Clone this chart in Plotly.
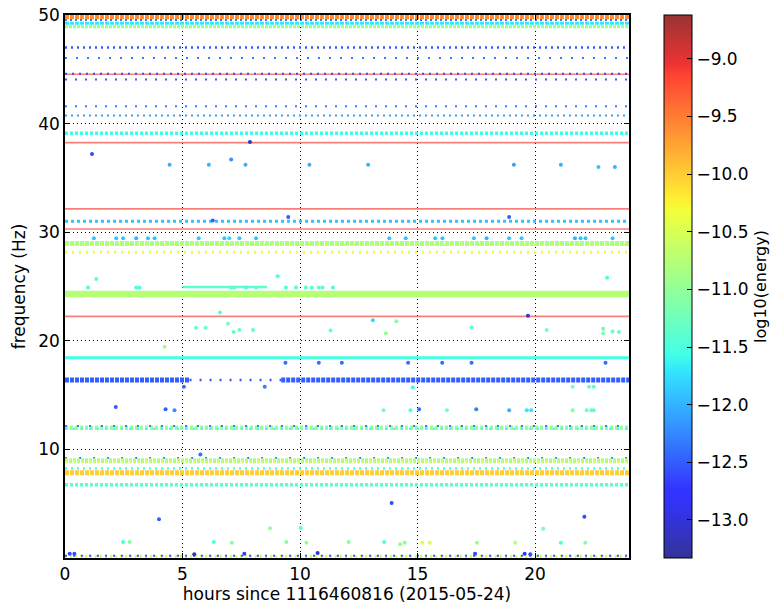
import numpy as np
import plotly.graph_objects as go
from plotly.colors import sample_colorscale

# ---------------- data ----------------
# continuous / dotted trigger bands (frequency in Hz, log10 energy, time span in hours)
band_freq = [49.85, 49.55, 49.25, 48.95, 47.0, 46.05, 44.55, 44.6, 44.05, 41.6, 40.75,
             39.1, 38.25, 32.15, 31.0, 30.3, 28.95, 28.85, 28.15, 24.95, 24.3, 22.25, 18.45,
             16.4, 16.4, 16.4, 12.0, 11.9, 12.15, 9.2, 8.95, 8.85, 8.25, 7.85, 6.75, 0.15, 0.2]
band_energy = [-9.6, -12.4, -11.7, -10.9, -12.5, -12.3, -9.1, -12.6, -12.5, -12.3, -12.1,
               -11.6, -9.1, -9.1, -11.9, -9.1, -10.85, -10.4, -10.3, -11.4, -10.75, -9.1, -11.55,
               -12.5, -12.5, -12.5, -11.0, -11.6, -12.3, -12.3, -10.8, -10.35, -11.5, -10.0, -11.4,
               -10.6, -12.5]
band_start = [0, 0, 0, 0, 0, 0, 0, 0, 0, 0, 0,
              0, 0, 0, 0, 0, 0, 0, 0, 5.0, 0, 0, 0,
              0, 5.3, 9.2, 0, 0, 0, 0, 0, 0, 0, 0, 0, 0, 0]
band_end = [24, 24, 24, 24, 24, 24, 24, 24, 24, 24, 24,
            24, 24, 24, 24, 24, 24, 24, 24, 8.6, 24, 24, 24,
            5.3, 9.2, 24, 24, 24, 24, 24, 24, 24, 24, 24, 24, 24, 24]

# isolated triggers
pt_hours = [1.15, 4.45, 6.12, 7.07, 7.68, 7.87, 10.4, 12.9, 19.1, 21.1, 22.7, 23.4,
            9.5, 6.29, 18.9,
            1.23, 2.18, 2.47, 3.03, 3.53, 3.81, 5.69, 6.78, 6.99, 7.42, 8.13,
            13.8, 14.5, 15.75, 16.06, 17.4, 17.94, 18.9, 19.43, 21.7, 21.94, 22.15, 23.3,
            23.07, 1.33, 9.05,
            0.98, 3.03, 3.17, 7.07, 7.2, 7.7, 8.13, 9.4, 9.83, 10.25, 10.5, 10.8, 10.96, 11.4,
            6.6, 5.57, 5.98, 6.94, 7.18, 7.42, 8.0, 11.3, 4.24,
            13.1, 14.1, 13.65, 17.3, 19.7, 20.5, 22.9, 22.9, 23.3, 23.57,
            9.38, 10.8, 11.78, 14.6, 16.05, 17.3, 23.0,
            5.06, 8.5, 14.8, 21.6, 22.3, 22.5,
            2.16, 4.28, 4.66, 13.55, 14.7, 15.07, 16.25, 17.5, 18.9, 19.65, 19.84, 21.6, 22.2, 22.4, 22.5,
            5.76,
            4.0, 2.47, 2.75, 6.33, 7.1, 8.72, 9.42, 10.03, 10.27, 12.07, 13.9, 13.58, 14.26, 14.46,
            15.2, 15.52, 17.53, 19.16, 20.35, 21.1, 22.1, 22.14,
            0.2, 0.4, 10.75, 7.63, 5.5, 17.45, 19.56, 19.8]
pt_freq = [37.2, 36.2, 36.2, 36.7, 36.2, 38.3, 36.2, 36.2, 36.2, 36.2, 36.0, 36.0,
           31.4, 31.07, 31.4,
           29.45, 29.45, 29.45, 29.45, 29.45, 29.45, 29.45, 29.45, 29.45, 29.45, 29.45,
           29.45, 29.45, 29.45, 29.45, 29.45, 29.45, 29.45, 29.45, 29.45, 29.45, 29.45, 29.45,
           25.8, 25.7, 25.95,
           24.9, 24.9, 24.9, 24.9, 24.9, 24.9, 24.9, 24.9, 24.9, 24.9, 24.9, 24.9, 24.9, 24.9,
           22.6, 21.2, 21.2, 21.56, 20.8, 21.0, 21.0, 20.95, 19.45,
           21.9, 21.8, 20.7, 21.25, 22.3, 21.0, 21.1, 20.7, 20.85, 20.8,
           17.97, 17.97, 17.97, 17.97, 17.97, 17.97, 17.97,
           15.77, 15.77, 15.7, 15.77, 15.77, 15.77,
           13.9, 13.7, 13.6, 13.6, 13.6, 13.7, 13.6, 13.7, 13.6, 13.6, 13.6, 13.6, 13.6, 13.6, 13.6,
           9.54,
           3.56, 1.47, 1.47, 1.47, 1.41, 2.73, 1.47, 2.76, 1.41, 1.47, 5.06, 1.47, 1.26, 1.41,
           1.41, 1.41, 1.41, 1.41, 2.7, 1.41, 3.8, 1.41,
           0.4, 0.4, 0.45, 0.4, 0.35, 0.4, 0.4, 0.35]
pt_energy = [-12.6, -12.0, -12.0, -12.2, -12.0, -13.1, -12.0, -12.0, -12.1, -12.0, -11.9, -12.0,
             -12.5, -12.5, -12.5,
             -11.9, -11.9, -11.9, -12.0, -11.9, -11.9, -11.9, -11.9, -11.8, -11.9, -11.9,
             -11.9, -11.9, -11.9, -11.9, -11.9, -12.0, -11.9, -11.9, -12.0, -11.9, -11.9, -11.9,
             -11.5, -11.4, -11.5,
             -11.5, -11.5, -11.5, -11.4, -11.4, -11.5, -11.4, -11.5, -11.5, -11.4, -11.4, -11.5, -11.4, -11.5,
             -11.4, -11.3, -11.3, -11.2, -11.3, -11.3, -11.3, -11.3, -10.9,
             -11.8, -11.1, -11.0, -11.3, -13.0, -11.2, -11.3, -11.1, -11.3, -11.3,
             -12.4, -12.4, -12.4, -12.4, -12.4, -12.4, -12.4,
             -12.4, -12.3, -11.6, -11.2, -11.3, -11.4,
             -12.5, -12.5, -12.2, -11.2, -11.5, -12.4, -11.2, -12.3, -12.0, -11.7, -11.7, -11.1, -11.2, -11.4, -11.3,
             -12.4,
             -12.5, -11.5, -11.1, -11.5, -11.1, -11.0, -11.1, -11.5, -11.0, -11.1, -12.6, -11.5, -11.0, -11.1,
             -10.5, -10.5, -11.0, -10.7, -11.2, -11.5, -12.6, -11.1,
             -12.6, -12.6, -13.0, -12.7, -13.1, -12.6, -12.8, -12.6]

x_ticks = [0, 5, 10, 15, 20]
y_ticks = [10, 20, 30, 40, 50]
cbar_ticks = [-13.0, -12.5, -12.0, -11.5, -11.0, -10.5, -10.0, -9.5, -9.0]
E_MIN, E_MAX = -13.33, -8.62

# ---------------- styles ----------------
band_width = [5, 2, 3, 3.5, 2.5, 2, 1.6, 2, 2, 2, 2,
              3.5, 1.6, 1.6, 3, 1.6, 5, 2, 3, 2.5, 6.5, 1.6, 3,
              5, 2.5, 5, 4.5, 2, 2, 2, 5, 2, 2.5, 5, 3.5, 3, 2]
band_dash = ["4px,1px", "2px,3px", "4px,1px", "3px,1px", "2px,4px", "2px,9px", "solid", "2px,5px",
             "2px,8px", "2px,8px", "2px,4px", "3px,2px", "solid", "solid", "3px,3px", "solid",
             "4px,1px", "2px,7px", "2px,5px", "solid", "solid", "solid", "solid",
             "4px,1px", "2px,8px", "4px,1px", "3px,2px", "2px,6px", "2px,10px", "2px,12px", "3px,1px",
             "2px,6px", "2px,4px", "4px,1px", "3px,2px", "2px,3px", "2px,6px"]
band_opacity = [0.65 if e > -9.2 else 1.0 for e in band_energy]
# draw order: the top orange band goes on top of its neighbours
band_order = list(range(1, len(band_freq))) + [0]

# matplotlib-like jet, drawn with alpha on white
ALPHA = 0.8
jr = ([0, 0.35, 0.66, 0.89, 1], [0, 0, 1, 1, 0.5])
jg = ([0, 0.125, 0.375, 0.64, 0.91, 1], [0, 0, 1, 1, 0, 0])
jb = ([0, 0.11, 0.34, 0.65, 1], [0.5, 1, 1, 0, 0])
stops = sorted(set([0, 0.11, 0.125, 0.34, 0.35, 0.375, 0.5, 0.64, 0.65, 0.66, 0.89, 0.91, 1]))
colorscale = []
for s in stops:
    rgb = [np.interp(s, *ch) for ch in (jr, jg, jb)]
    rgb = [int(round(255 * (ALPHA * c + (1 - ALPHA)))) for c in rgb]
    colorscale.append([s, f"rgb({rgb[0]},{rgb[1]},{rgb[2]})"])

def ecolor(e):
    t = min(max((e - E_MIN) / (E_MAX - E_MIN), 0), 1)
    return sample_colorscale(colorscale, [t])[0]

fig = go.Figure()
for i in band_order:
    fig.add_trace(go.Scatter(
        x=[band_start[i], band_end[i]], y=[band_freq[i], band_freq[i]],
        mode="lines", hoverinfo="skip", showlegend=False, opacity=band_opacity[i],
        line=dict(color=ecolor(band_energy[i]), width=band_width[i], dash=band_dash[i]),
    ))

fig.add_trace(go.Scatter(
    x=pt_hours, y=pt_freq, mode="markers", showlegend=False,
    marker=dict(color=pt_energy, coloraxis="coloraxis", size=4, line=dict(width=0)),
))

font = "DejaVu Sans, Liberation Sans, sans-serif"
fig.update_layout(
    width=777, height=604,
    margin=dict(l=65, r=148, t=15, b=46, autoexpand=False),
    paper_bgcolor="white", plot_bgcolor="white",
    font=dict(family=font, color="black", size=17),
    coloraxis=dict(
        colorscale=colorscale, cmin=E_MIN, cmax=E_MAX,
        colorbar=dict(
            x=1.062, xanchor="left", y=0.5, yanchor="middle", len=1, lenmode="fraction",
            thickness=28, outlinecolor="black", outlinewidth=1, xpad=0, ypad=0,
            ticks="inside", ticklen=5, tickcolor="black",
            tickvals=cbar_ticks, tickformat=".1f", tickfont=dict(size=17),
            title=dict(text="log10(energy)", side="right", font=dict(size=16)),
        ),
    ),
    xaxis=dict(
        range=[0, 24], tickvals=x_ticks, showgrid=True, griddash="1px,3px",
        gridcolor="black", gridwidth=1, zeroline=False,
        showline=True, linecolor="black", linewidth=1.5, mirror="ticks",
        ticks="inside", ticklen=5, tickcolor="black",
        title=dict(text="hours since 1116460816 (2015-05-24)", font=dict(size=17), standoff=1),
    ),
    yaxis=dict(
        range=[0, 50], tickvals=y_ticks, showgrid=True, griddash="1px,3px",
        gridcolor="black", gridwidth=1, zeroline=False,
        showline=True, linecolor="black", linewidth=1.5, mirror="ticks",
        ticks="inside", ticklen=5, tickcolor="black",
        title=dict(text="frequency (Hz)", font=dict(size=17), standoff=8),
    ),
)

fig.write_html("out.html")
